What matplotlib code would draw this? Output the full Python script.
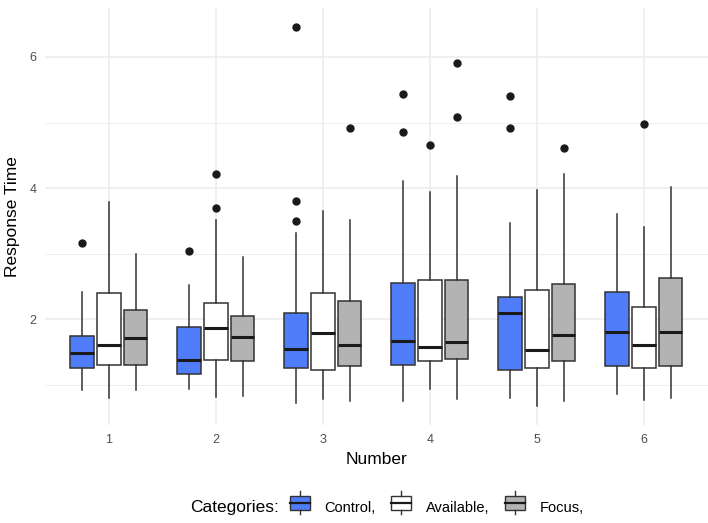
import numpy as np
import matplotlib
matplotlib.use("Agg")
import matplotlib.pyplot as plt
from matplotlib.patches import Rectangle
from matplotlib.lines import Line2D
from matplotlib.legend_handler import HandlerBase

plt.rcParams['font.family'] = ['Liberation Sans', 'DejaVu Sans']

numbers = [1, 2, 3, 4, 5, 6]
categories = ["Control,", "Available,", "Focus,"]
fills = ["#4F7DF9", "#FFFFFF", "#B3B3B3"]

# per category: one value per number (1..6)
q1 = {
    "Control,":   [1.25, 1.16, 1.25, 1.30, 1.22, 1.28],
    "Available,": [1.30, 1.37, 1.23, 1.36, 1.26, 1.26],
    "Focus,":     [1.30, 1.36, 1.29, 1.39, 1.36, 1.28],
}
med = {
    "Control,":   [1.485, 1.37, 1.54, 1.66, 2.10, 1.80],
    "Available,": [1.61, 1.87, 1.79, 1.58, 1.53, 1.60],
    "Focus,":     [1.71, 1.72, 1.61, 1.65, 1.76, 1.80],
}
q3 = {
    "Control,":   [1.745, 1.88, 2.10, 2.55, 2.33, 2.42],
    "Available,": [2.40, 2.25, 2.40, 2.60, 2.44, 2.19],
    "Focus,":     [2.14, 2.05, 2.27, 2.59, 2.54, 2.63],
}
wlo = {
    "Control,":   [0.92, 0.94, 0.72, 0.75, 0.79, 0.85],
    "Available,": [0.79, 0.81, 0.78, 0.93, 0.67, 0.76],
    "Focus,":     [0.92, 0.83, 0.75, 0.78, 0.75, 0.79],
}
whi = {
    "Control,":   [2.41, 2.52, 3.32, 4.11, 3.47, 3.61],
    "Available,": [3.79, 3.51, 3.65, 3.94, 3.97, 3.40],
    "Focus,":     [2.99, 2.95, 3.51, 4.19, 4.22, 4.01],
}
outliers = {
    "Control,":   [[3.155], [3.04], [3.49, 3.80, 6.46], [4.85, 5.44], [4.92, 5.41], []],
    "Available,": [[], [3.70, 4.22], [], [4.66], [], [4.98]],
    "Focus,":     [[], [], [4.92], [5.09, 5.91], [4.61], []],
}

fig = plt.figure(figsize=(7.08, 5.23), dpi=100)
ax = fig.add_axes([0.063, 0.187, 0.937, 0.798])

dodge = 0.25
width = 0.22
edge = "#333333"
for i, cat in enumerate(categories):
    stats = []
    for j in range(len(numbers)):
        stats.append(dict(q1=q1[cat][j], med=med[cat][j], q3=q3[cat][j],
                          whislo=wlo[cat][j], whishi=whi[cat][j],
                          fliers=outliers[cat][j]))
    pos = [n + (i - 1) * dodge for n in numbers]
    ax.bxp(stats, positions=pos, widths=width, patch_artist=True,
           showcaps=False,
           boxprops=dict(facecolor=fills[i], edgecolor=edge, linewidth=1.1),
           medianprops=dict(color="#1a1a1a", linewidth=2.2),
           whiskerprops=dict(color=edge, linewidth=1.1),
           flierprops=dict(marker='o', markerfacecolor="#1a1a1a",
                           markeredgecolor="#1a1a1a", markersize=5),
           zorder=3)

ax.set_xlim(0.4, 6.6)
ax.set_ylim(0.38, 6.75)
ax.set_xticks(numbers)
ax.set_xticklabels([str(n) for n in numbers])
ax.set_yticks([2, 4, 6])
ax.set_yticks([1, 3, 5], minor=True)
ax.grid(True, which='major', color="#EBEBEB", linewidth=1.1, zorder=0)
ax.grid(True, which='minor', axis='y', color="#EBEBEB", linewidth=0.6, zorder=0)
for s in ax.spines.values():
    s.set_visible(False)
ax.tick_params(which='both', length=0, labelsize=9, labelcolor="#4D4D4D", pad=6)
ax.set_xlabel("Number", fontsize=12.5, labelpad=5)
ax.set_ylabel("Response Time", fontsize=12.5, labelpad=7)


class BoxKey(HandlerBase):
    def create_artists(self, legend, orig, xd, yd, w, h, fontsize, trans):
        fc = orig.get_facecolor()
        bx = xd + 0.1 * w
        bw = 0.8 * w
        rect = Rectangle((bx, yd), bw, h, facecolor=fc, edgecolor=edge,
                         linewidth=1.0, transform=trans)
        cx = bx + bw / 2
        m = Line2D([bx, bx + bw], [yd + h / 2] * 2, color="#1a1a1a", lw=1.6, transform=trans)
        t = Line2D([cx, cx], [yd + h, yd + h + 0.3 * h], color=edge, lw=1.0, transform=trans)
        b = Line2D([cx, cx], [yd, yd - 0.3 * h], color=edge, lw=1.0, transform=trans)
        return [rect, m, t, b]


handles = [Rectangle((0, 0), 1, 1, facecolor=f) for f in fills]
fig.text(0.268, 0.029, "Categories:", fontsize=12.5, va='center', ha='left')
fig.legend(handles, categories, handler_map={Rectangle: BoxKey()},
           loc='center left', bbox_to_anchor=(0.406, 0.029), ncol=3, frameon=False,
           fontsize=10.5, handlelength=1.7, handleheight=1.15, columnspacing=0.95,
           handletextpad=0.8, borderpad=0, borderaxespad=0)

fig.savefig("out.png", dpi=100)
